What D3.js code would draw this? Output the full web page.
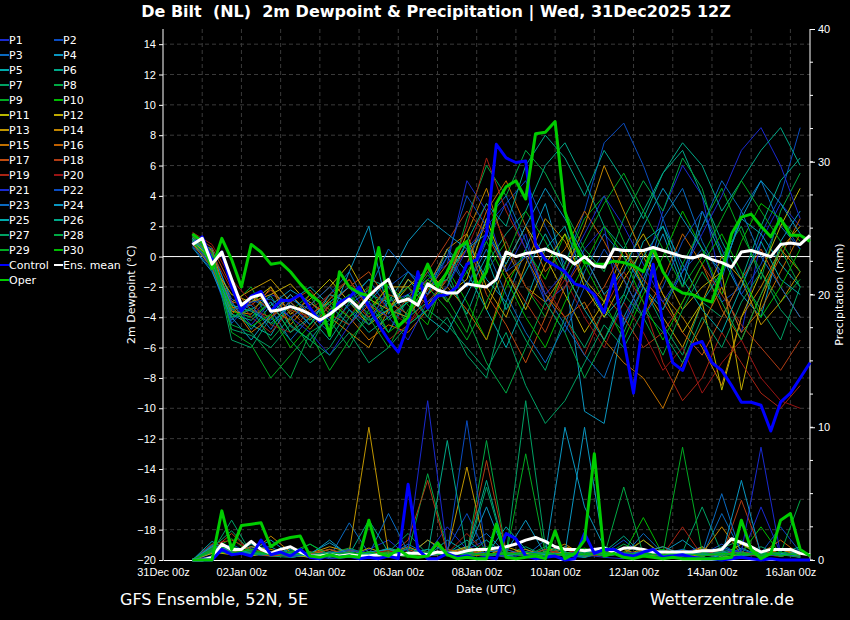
<!DOCTYPE html>
<html>
<head>
<meta charset="utf-8">
<script src="https://cdn.jsdelivr.net/npm/d3@7"></script>
<style>
body{margin:0;background:#000;}
svg{display:block;font-family:"DejaVu Sans",sans-serif;}
</style>
</head>
<body>
<svg width="850" height="620"></svg>
<script>
// GFS ensemble, De Bilt. members 12-hourly from +18h, control/oper/mean 6-hourly
var members = {
 P1:[1.0,-0.3,-3.5,-4.0,-2.5,-3.0,-4.5,-3.2,-2.0,-4.0,-3.0,-2.5,-1.5,-0.5,5.0,3.0,-1.0,1.5,-3.0,-2.0,0.5,2.0,-4.5,-1.0,3.0,6.0,4.0,-2.0,-5.0,1.0,3.5,2.0],
 P2:[1.2,0.2,-2.8,-3.5,-4.2,-2.5,-3.8,-5.0,-3.0,-1.5,-3.5,-4.0,-2.0,0.5,-2.0,1.0,3.5,5.0,2.0,-0.5,3.0,7.5,8.8,6.0,2.5,-1.0,0.5,-3.0,-2.0,1.5,4.0,8.5],
 P3:[0.8,-0.6,-4.2,-2.8,-3.5,-5.5,-4.0,-2.5,-1.0,-3.5,-5.0,-2.8,-1.0,-3.0,-0.5,2.5,4.0,1.0,-2.5,-4.5,-1.0,1.5,0.0,-2.0,2.5,4.5,1.0,-1.5,3.0,5.0,2.0,0.5],
 P4:[1.1,0.5,-3.0,-4.8,-3.2,-2.2,-3.0,-4.2,-1.0,2.0,-3.8,-1.5,-3.0,-2.0,1.0,-1.5,-3.0,0.5,3.5,-1.0,-10.2,-11.0,-4.0,-1.5,1.5,-2.0,3.0,0.0,-2.5,-4.0,1.0,3.0],
 P5:[1.3,0.0,-3.8,-4.5,-5.2,-3.0,-2.0,-3.2,-4.5,-2.5,-3.0,-1.0,-2.5,0.5,-1.0,-3.5,-6.0,-3.0,0.5,2.0,-1.5,-4.0,-2.5,1.0,2.0,-0.5,-3.0,-1.0,2.5,1.5,-0.5,-2.0],
 P6:[0.9,-0.8,-4.0,-3.5,-2.6,-4.6,-5.5,-3.8,-2.8,-1.5,-2.0,-4.0,-3.0,-1.5,-3.8,-0.5,1.5,3.0,6.0,7.5,5.0,2.0,0.5,3.0,5.5,7.0,4.0,1.0,-1.5,2.0,5.0,6.5],
 P7:[1.4,0.3,-5.5,-6.0,-4.0,-5.5,-7.0,-6.0,-4.0,-3.0,-5.0,-2.5,-5.5,-4.0,-6.5,-8.0,-3.0,-5.5,-7.5,-4.0,-6.0,-3.5,-5.0,-2.0,-4.5,-6.5,-3.0,-4.0,-1.5,-3.5,-5.5,-2.0],
 P8:[1.0,-0.2,-4.5,-5.0,-6.5,-8.0,-5.0,-4.2,-6.0,-3.5,-2.5,-4.5,-3.5,-2.0,2.5,6.0,4.0,7.0,5.5,3.0,0.5,-1.0,2.5,5.0,3.0,6.5,4.5,0.0,2.0,-1.5,3.0,5.5],
 P9:[1.2,-0.4,-3.2,-2.0,-4.5,-3.6,-2.5,-5.0,-3.0,-2.0,-4.2,-3.0,-1.2,-2.8,-5.0,-1.0,1.0,-2.0,-4.0,-0.5,2.5,4.0,1.0,-2.0,-3.5,-0.5,2.0,4.5,1.5,-1.0,-3.0,-1.5],
 P10:[1.1,0.1,-3.6,-4.0,-3.0,-5.0,-3.5,-4.8,-2.5,-3.8,-1.8,-3.2,-4.5,-0.8,-3.0,-5.5,-2.0,0.5,-1.5,1.5,-0.5,-3.0,-5.5,-2.5,0.0,3.0,0.5,-2.5,1.0,3.5,2.5,1.0],
 P11:[0.9,-0.5,-2.5,-3.0,-2.0,-3.8,-2.8,-1.5,-3.0,-4.5,-3.5,-2.0,-0.8,-2.5,-1.5,2.5,-1.0,-3.5,-0.5,1.5,-2.0,-4.0,-1.5,0.5,-2.5,-5.0,-3.0,-8.8,-4.0,-1.0,2.0,4.5],
 P12:[1.0,-0.1,-3.4,-3.0,-2.5,-1.8,-3.2,-2.0,-0.5,-2.8,-3.5,-1.5,-2.5,-1.0,0.5,-3.5,-0.5,2.0,0.0,-2.5,-5.0,-3.0,-0.5,1.5,-1.0,-3.5,-2.0,-1.0,-8.8,-3.0,0.5,2.0],
 P13:[1.1,-0.3,-3.0,-2.2,-1.5,-3.0,-4.2,-2.8,-1.5,-3.5,-2.0,-2.0,-3.2,-1.5,1.5,-2.0,-4.0,-0.5,2.5,1.0,-1.5,-3.0,0.5,-2.0,-4.0,-6.0,-3.0,0.0,-1.5,-4.5,-3.0,-1.0],
 P14:[1.3,0.4,-3.6,-3.8,-2.0,-4.5,-3.0,-4.0,-5.0,-6.0,-3.5,-4.0,-2.0,0.5,1.5,4.5,0.5,-2.0,-3.0,-1.0,2.0,6.0,3.0,0.0,-2.5,-4.0,-6.0,-8.5,-4.0,-2.0,0.5,-1.0],
 P15:[1.2,0.0,-3.2,-5.0,-4.0,-2.5,-3.8,-3.0,-4.0,-5.5,-4.5,-5.0,-3.5,-2.0,-3.5,-5.5,-1.5,0.0,-2.5,-4.0,-3.0,-5.5,-7.0,-8.0,-10.0,-7.0,-4.5,-2.0,-5.0,-3.5,-1.0,1.5],
 P16:[0.8,-0.7,-3.8,-2.6,-3.5,-4.2,-2.5,-3.5,-2.8,-4.0,-2.5,-3.0,-1.5,-3.0,-0.5,3.0,5.0,2.0,-1.0,0.5,3.0,1.0,-1.5,-4.0,-1.5,1.5,-0.5,-3.5,-5.5,-2.5,0.0,2.5],
 P17:[1.0,-0.4,-3.0,-3.2,-2.2,-3.6,-4.8,-3.2,-2.0,-1.0,-3.0,-3.8,-2.2,-0.5,1.0,-2.5,-4.5,-7.0,-4.0,-1.0,-3.5,-2.0,0.5,-1.5,-3.0,-5.0,-6.5,-4.0,-1.5,0.5,-2.0,-4.0],
 P18:[1.5,0.6,-2.0,-3.5,-4.0,-3.0,-2.2,-3.8,-4.5,-3.2,-4.0,-2.8,-1.0,1.0,3.0,1.5,-1.0,-3.0,-5.0,-2.0,0.0,-2.5,-4.0,-6.0,-5.0,-3.0,-0.5,-2.5,-4.5,-6.0,-7.5,-5.5],
 P19:[1.4,0.2,-2.2,-4.0,-5.0,-3.5,-4.0,-2.5,-1.5,-3.5,-5.5,-4.5,-2.5,-1.5,2.0,6.5,3.0,0.5,-2.0,-4.0,-6.5,-3.5,-1.0,-3.0,-7.0,-9.5,-8.0,-5.0,-7.0,-9.0,-10.0,-8.5],
 P20:[1.6,0.8,-1.5,-3.0,-4.5,-5.0,-3.5,-2.5,-4.0,-2.0,-3.5,-4.5,-3.0,-1.5,0.5,3.5,1.0,-2.0,-3.5,-1.5,-4.0,-6.0,-3.0,-5.0,-7.5,-6.0,-9.0,-7.0,-5.5,-8.0,-9.5,-10.0],
 P21:[1.0,-0.6,-3.0,-4.5,-3.0,-4.0,-5.0,-6.5,-4.5,-3.0,-4.0,-5.5,-3.0,-2.0,0.5,2.0,3.5,0.5,-2.5,-1.0,1.5,4.0,2.0,-0.5,-3.0,-1.0,1.5,4.0,7.0,8.5,6.0,2.5],
 P22:[0.7,-0.9,-4.4,-3.0,-2.8,-4.0,-3.2,-2.0,-3.5,-4.5,-2.0,-1.0,-2.5,0.0,4.0,2.0,-1.0,0.0,-3.0,-5.0,-2.0,0.5,-1.5,-4.0,-2.0,1.0,3.0,0.5,-2.5,-0.5,2.5,0.5],
 P23:[1.1,0.0,-3.5,-3.2,-4.8,-2.8,-3.5,-4.5,-3.2,-2.2,0.5,-1.0,-2.0,0.0,-2.0,0.5,-2.5,-5.0,-7.0,-4.5,-6.5,-8.0,-4.5,-2.0,-3.5,-1.0,2.0,5.0,3.0,0.0,-2.0,-4.0],
 P24:[0.6,-1.0,-4.0,-5.5,-3.8,-2.5,-4.0,-3.0,-2.0,-3.0,-1.5,1.0,2.5,1.5,0.5,1.5,-0.5,2.0,4.5,2.5,0.0,-2.5,-1.0,2.0,4.5,2.5,0.5,-1.0,2.5,5.0,3.5,1.5],
 P25:[1.2,-0.2,-3.2,-3.6,-4.4,-3.2,-4.5,-2.5,-3.0,-4.2,-3.5,-2.5,-4.0,-5.0,-2.5,0.0,-3.5,-1.0,1.5,-1.0,-3.5,-5.5,-3.0,0.0,2.0,-1.5,-3.5,-5.0,-2.0,1.0,-1.5,-2.5],
 P26:[1.0,-0.3,-3.8,-4.2,-3.0,-5.0,-4.0,-5.5,-3.5,-5.0,-4.0,-3.0,-2.0,-1.5,1.0,3.5,2.0,6.0,8.0,6.5,4.0,7.0,5.0,2.5,5.5,7.5,6.0,3.0,5.0,7.0,8.5,6.0],
 P27:[1.3,0.1,-4.8,-5.2,-6.0,-4.5,-5.5,-6.5,-5.0,-7.0,-6.0,-4.5,-3.5,-4.5,-6.0,-7.5,-5.0,-8.5,-11.0,-9.5,-7.0,-4.5,-6.0,-3.5,-5.0,-7.0,-4.0,-6.0,-3.0,-1.0,-3.5,-5.0],
 P28:[1.1,-0.5,-4.0,-3.4,-5.5,-4.0,-6.0,-3.5,-2.5,-4.5,-3.0,-2.0,-4.0,-1.0,-4.0,-7.0,-9.0,-6.0,-3.0,-5.0,-8.0,-5.5,-2.5,-4.0,-6.5,-3.5,-1.0,-3.0,-5.5,-2.5,0.5,-2.0],
 P29:[1.4,0.3,-5.0,-5.8,-8.0,-6.5,-5.0,-7.5,-5.5,-4.0,-6.0,-3.5,-2.0,-3.5,-5.5,-3.0,0.0,3.0,1.0,-1.5,1.0,3.5,5.5,3.0,0.5,-2.0,0.0,2.5,5.0,3.0,1.0,-1.0],
 P30:[0.9,-0.2,-3.4,-4.6,-3.8,-6.0,-4.5,-3.0,-4.0,-2.5,-5.0,-4.0,-1.5,-3.0,-1.0,1.0,-1.5,-4.0,-6.0,-3.0,-0.5,2.0,0.0,-3.0,-5.5,-3.0,-0.5,1.5,-1.0,-4.0,-2.0,0.5]
};
var membersPrecip = {
 P1:[0,0.3,0.8,0.5,0.6,0.2,0.4,0.1,0.2,0.8,1.5,0.3,0.5,2.5,0.8,1.5,0.3,0.5,0.2,1.0,0.4,0.2,0.1,0.6,0.2,0.5,1.0,0.3,0.2,4.0,0.5,0.2],
 P2:[0,0.5,1.2,0.4,0.3,0.5,0.2,0.3,0.6,0.2,0.4,1.0,0.3,0.8,3.5,0.5,0.2,0.4,0.8,0.3,0.2,0.5,1.5,0.3,0.2,0.8,0.4,1.2,0.3,0.5,2.5,0.6],
 P3:[0,0.8,0.6,1.0,0.5,0.3,0.6,0.2,2.8,0.5,0.3,1.2,0.4,0.6,1.0,2.0,0.5,0.3,1.5,0.4,0.2,0.6,0.3,2.0,0.5,0.8,0.3,3.5,0.6,0.4,0.8,0.3],
 P4:[0,1.2,0.4,0.9,1.0,0.2,0.4,1.5,0.3,0.5,0.8,0.3,1.5,0.4,0.9,0.3,0.6,3.0,0.4,10.0,4.0,1.0,0.5,0.3,0.6,1.5,0.4,0.2,0.9,0.3,0.5,0.8],
 P5:[0,1.0,0.7,0.5,0.4,0.8,0.3,0.6,0.2,0.4,0.9,0.5,0.3,1.5,0.6,0.4,2.5,0.8,0.3,0.6,0.2,1.0,0.4,0.3,0.6,0.4,0.2,1.0,0.4,0.3,0.6,0.2],
 P6:[0,0.6,0.5,1.2,0.4,0.3,0.5,0.2,0.4,3.0,0.6,0.4,0.3,0.5,1.5,0.4,0.6,0.3,0.8,0.5,0.3,0.6,1.8,0.4,0.3,0.5,0.4,0.7,0.3,0.6,0.5,1.0],
 P7:[0,0.9,2.2,0.6,0.3,0.2,0.4,0.8,0.3,0.2,0.6,2.0,0.4,0.8,0.3,5.5,0.4,1.0,0.3,0.6,0.2,0.8,0.4,1.5,0.3,0.6,4.0,0.5,0.3,1.0,0.4,0.2],
 P8:[0,1.1,0.6,0.4,0.5,0.7,0.3,0.5,0.9,0.4,0.3,0.5,6.5,0.8,0.4,9.0,0.6,0.3,1.0,0.4,0.7,0.3,1.2,0.5,0.6,0.4,0.3,0.9,1.5,0.4,0.6,0.3],
 P9:[0,0.7,0.5,0.8,0.3,0.5,0.2,0.4,0.6,0.3,0.5,0.2,0.8,0.4,0.6,1.0,0.3,8.0,0.5,0.3,0.4,1.0,0.3,0.5,0.8,0.3,0.6,0.4,1.2,0.3,0.5,0.2],
 P10:[0,0.8,1.6,0.5,0.4,0.6,1.2,0.3,0.5,0.4,0.7,0.3,0.5,0.6,0.4,0.8,0.3,0.5,0.6,0.4,0.9,0.3,0.5,3.2,0.4,0.6,0.3,0.8,0.5,2.5,0.4,0.3],
 P11:[0,0.5,0.7,0.3,0.6,0.4,0.2,0.5,0.8,0.3,0.4,0.6,0.3,0.5,1.0,0.4,0.3,0.6,0.2,0.4,0.8,0.3,0.5,0.4,0.6,0.3,1.0,0.2,0.4,0.6,0.3,0.5],
 P12:[0,0.6,0.4,0.8,0.5,0.3,0.6,0.4,0.3,0.9,0.4,0.5,0.3,0.6,0.4,0.3,1.0,0.5,0.4,0.6,0.3,0.5,0.8,0.3,0.4,0.6,0.5,0.3,1.2,0.4,0.3,0.6],
 P13:[0,0.9,0.6,1.0,0.8,0.4,0.5,1.0,0.6,10.0,0.5,0.3,1.5,0.6,7.0,0.5,0.4,0.8,0.3,1.0,0.6,0.4,0.5,1.5,0.4,0.3,0.9,0.5,0.6,0.3,0.8,0.4],
 P14:[0,0.7,1.0,0.5,1.8,0.6,0.4,0.8,0.3,0.6,0.5,1.0,0.4,0.6,0.3,0.8,0.5,0.4,0.6,1.2,0.3,0.5,0.4,0.8,0.6,0.3,0.5,2.5,0.4,0.6,0.3,0.5],
 P15:[0,0.8,0.5,0.6,0.4,0.3,0.5,0.6,0.4,0.3,0.8,0.5,0.6,0.4,0.9,0.3,0.5,0.4,0.6,0.3,0.8,0.4,0.5,0.6,1.0,0.4,0.3,0.5,0.6,0.4,0.8,0.3],
 P16:[0,0.6,0.8,0.4,0.5,0.6,0.3,0.4,0.7,0.5,0.3,0.6,0.4,0.8,0.5,0.3,0.6,0.4,0.5,0.8,0.3,0.6,0.4,0.5,0.3,0.7,0.4,0.6,0.3,0.5,1.5,0.4],
 P17:[0,1.0,0.6,0.5,0.3,0.4,0.6,0.3,0.5,0.4,0.6,0.8,0.3,0.5,0.7,0.4,0.3,0.6,0.5,0.4,0.8,0.3,0.5,0.6,0.4,0.3,0.7,0.5,0.4,0.6,0.3,0.5],
 P18:[0,0.7,2.0,0.6,0.4,0.3,0.5,0.8,0.4,0.6,0.3,1.5,6.0,0.5,0.4,7.5,0.6,0.3,0.8,0.4,0.5,1.0,0.3,0.6,0.4,0.5,0.8,0.3,4.5,0.6,0.4,0.3],
 P19:[0,1.2,1.5,0.8,0.5,0.6,0.4,0.3,0.7,0.5,0.4,0.6,0.3,0.5,2.0,0.4,0.6,0.3,0.5,0.8,0.4,0.3,0.6,0.5,0.4,2.5,0.3,0.5,0.6,0.4,0.3,0.5],
 P20:[0,0.8,0.5,0.6,0.4,0.5,0.3,0.6,0.4,0.5,0.7,0.3,0.4,0.6,0.5,0.3,0.8,0.4,0.5,0.3,0.6,0.4,0.5,0.3,0.7,0.4,0.5,0.6,0.3,0.4,0.5,0.3],
 P21:[0,0.9,0.4,0.6,0.5,0.3,0.4,0.6,0.5,0.3,0.4,0.8,12.0,0.6,0.5,0.4,0.3,0.6,0.5,0.4,0.8,0.3,0.5,0.6,0.4,0.3,0.5,0.8,0.6,8.5,0.4,0.3],
 P22:[0,0.7,0.6,0.4,0.5,0.6,0.3,0.4,0.8,0.5,0.3,0.4,0.6,0.5,10.5,0.4,0.3,0.6,0.5,0.4,0.3,0.8,0.4,0.5,0.3,0.6,0.4,0.5,0.8,0.3,0.4,0.5],
 P23:[0,1.1,0.8,0.5,0.6,0.4,0.3,0.5,0.7,0.4,3.5,0.6,0.3,0.5,0.4,0.6,0.8,0.3,0.5,0.4,0.6,0.3,0.5,0.4,0.7,0.3,0.5,5.0,0.4,0.6,0.3,0.5],
 P24:[0,1.0,0.5,0.7,1.5,0.4,0.5,1.3,0.4,0.6,0.8,0.5,0.4,0.6,0.5,4.0,0.3,0.6,0.4,0.5,10.0,0.8,0.4,0.6,1.0,0.4,0.5,0.3,6.0,0.4,0.5,0.3],
 P25:[0,1.4,0.6,0.5,0.4,0.6,0.3,0.5,0.4,0.6,0.3,0.5,0.8,0.4,0.6,0.3,0.5,0.4,0.6,0.3,0.5,1.0,0.4,0.6,0.3,0.5,0.4,0.6,0.3,0.5,0.4,0.6],
 P26:[0,0.7,0.5,0.6,0.4,0.5,0.3,0.6,0.4,0.5,0.3,0.6,0.4,9.0,0.5,6.0,0.4,0.6,0.3,0.5,0.4,0.6,0.3,0.5,0.4,0.6,0.3,0.5,0.4,0.6,0.3,0.5],
 P27:[0,0.6,3.0,0.5,0.4,0.6,0.3,0.5,0.4,0.6,0.3,0.9,0.4,0.6,0.3,1.5,0.4,12.0,1.0,0.6,0.3,0.5,0.4,0.6,0.3,0.5,0.4,0.6,0.3,0.5,0.4,0.6],
 P28:[0,0.8,0.6,0.4,0.5,0.3,1.2,0.4,0.6,0.3,0.5,0.4,0.6,0.3,0.5,0.4,0.6,0.3,0.5,0.4,0.6,0.3,5.5,0.4,0.6,0.3,0.5,0.4,0.6,0.3,0.5,4.5],
 P29:[0,0.9,1.0,0.6,0.5,0.4,0.6,0.3,0.5,0.4,0.6,0.3,0.5,0.4,0.6,0.3,0.5,0.4,0.6,0.3,0.5,0.4,0.6,0.3,0.5,8.5,0.6,0.3,0.5,0.4,0.6,0.3],
 P30:[0,0.7,0.5,0.8,0.4,0.6,0.3,0.5,0.4,0.6,0.3,0.5,0.4,0.6,0.3,0.5,0.4,0.6,0.3,0.5,0.4,0.6,0.3,0.5,0.4,0.6,0.3,0.5,0.4,0.6,0.3,0.5]
};
var control = [0.8,1.3,-0.3,0.3,-2.0,-3.6,-2.6,-2.3,-3.6,-2.9,-2.9,-2.5,-3.4,-4.3,-3.8,-3.0,-2.7,-2.0,-3.3,-4.5,-5.5,-6.3,-4.5,-1.0,-3.4,-2.6,-2.5,-2.0,-0.5,-0.2,1.5,7.4,6.5,6.2,6.3,0.8,-0.2,-0.6,-1.0,-1.8,-2.0,-2.5,-3.7,-1.2,-5.5,-9.0,-4.0,-0.5,-4.5,-7.0,-7.5,-5.8,-5.6,-7.0,-7.5,-8.5,-9.6,-9.6,-9.8,-11.5,-9.6,-9.0,-8.0,-7.0];
var oper = [1.5,1.0,-0.8,1.2,-0.2,-2.0,0.8,0.3,-0.5,-0.4,-1.0,-1.8,-2.5,-3.0,-5.2,-1.0,-2.0,-2.4,-2.6,0.6,-3.0,-4.6,-4.0,-2.0,-0.5,-2.0,-1.0,0.5,1.0,-2.0,-1.0,3.5,4.6,5.0,3.8,8.1,8.2,8.9,3.0,0.8,-0.4,-0.5,-0.5,-0.3,-0.4,-0.6,-1.0,0.6,-1.0,-2.0,-2.4,-2.5,-2.8,-3.0,-1.0,1.5,2.6,2.8,2.0,1.3,2.5,1.4,1.4,1.0];
var ensMean = [0.8,1.2,-0.5,0.3,-1.5,-3.2,-2.7,-2.5,-3.6,-3.5,-3.3,-3.5,-3.8,-4.2,-3.8,-3.3,-2.8,-3.4,-2.6,-2.0,-1.5,-3.0,-2.8,-3.2,-1.8,-2.2,-2.4,-2.4,-1.8,-1.9,-2.0,-1.5,0.3,0.0,0.2,0.3,0.5,0.2,0.0,-0.5,0.0,-0.6,-0.7,0.5,0.4,0.4,0.4,0.6,0.4,0.2,0.0,-0.1,0.1,-0.2,-0.4,-0.7,0.3,0.4,0.2,0.0,0.8,0.9,0.8,1.4];
var controlPrecip = [0,0,0,0.8,0.4,0.5,0.3,1.5,0.4,0.6,0.3,0.8,0.2,0.1,0.4,0.2,0.3,0.1,0.2,0.1,0.3,0.1,5.7,0.8,0.1,0.1,0.5,0.2,0.3,0.1,0.2,0.1,2.0,1.6,0.3,0.1,0.2,0.3,0.0,0.1,2.0,0.5,0.8,0.8,0.4,0.3,0.6,0.8,0.2,0.3,0.4,0.2,0.1,0.1,0.0,0.1,0.2,0.1,0.0,0.1,0,0,0,0];
var operPrecip = [0,0,0,3.7,0.8,2.6,2.7,2.8,1.0,1.5,1.7,1.8,0.3,0.2,0.4,0.2,0.3,0.2,3.0,0.5,0.3,0.8,0.3,0.2,0.3,1.3,0.4,0.1,0.2,0.1,0.1,2.7,0.2,0.1,0.2,0.3,0.1,2.2,0.1,0.5,1.5,8.0,0.3,0.5,0.2,0.1,0.3,0.2,0.1,0.2,0.1,0.1,0.1,0.1,0.1,0.2,3.0,0.8,0.1,0.5,3.0,3.5,0.8,0.3];
var meanPrecip = [0,0,0.2,1.2,0.8,0.8,1.4,0.8,0.5,0.8,1.0,0.6,0.3,0.3,0.4,0.3,0.4,0.3,0.3,0.4,0.3,0.4,0.5,0.5,0.4,0.6,0.5,0.5,0.7,0.8,0.8,0.9,1.0,1.2,1.5,1.7,1.4,1.0,0.8,0.8,0.7,0.8,0.9,0.6,0.9,0.9,0.8,0.6,0.6,0.6,0.6,0.6,0.7,0.7,0.8,1.6,1.3,1.0,0.6,0.8,0.8,0.8,0.5,0.4];

var colors = ["#1a2ad0","#0a4cc0","#0a6ac0","#0a96c0","#00aaaa","#00a888","#00a064","#00a844","#00aa22","#00bb00",
              "#b8b800","#c0aa00","#c09600","#c08400","#c07000","#c06000","#c04c10","#b03c14","#a82414","#981414"];

drawChart();

function drawChart(){
    var svg = d3.select("svg");
    var W = 850, H = 620;
    var pLeft = 163, pRight = 810, pTop = 29, pBottom = 560;

    var x = d3.scaleLinear().domain([0, 16.5]).range([pLeft, pRight]);
    var y = d3.scaleLinear().domain([-20, 15]).range([pBottom, pTop]);
    var yP = d3.scaleLinear().domain([0, 40]).range([pBottom, pTop]);

    svg.append("rect").attr("width", W).attr("height", H).attr("fill", "#000");

    // grid
    var grid = svg.append("g").attr("stroke", "#3a3a3a").attr("stroke-dasharray", "4,3").attr("stroke-width", 1);
    d3.range(1, 17).forEach(function(d){
        grid.append("line").attr("x1", x(d)).attr("x2", x(d)).attr("y1", pTop).attr("y2", pBottom);
    });
    d3.range(-18, 15, 2).forEach(function(v){
        grid.append("line").attr("x1", pLeft).attr("x2", pRight).attr("y1", y(v)).attr("y2", y(v));
    });
    svg.append("line").attr("x1", pLeft).attr("x2", pRight).attr("y1", y(0)).attr("y2", y(0))
        .attr("stroke", "#fff").attr("stroke-width", 1);

    var days = ["31Dec","02Jan","04Jan","06Jan","08Jan","10Jan","12Jan","14Jan","16Jan"];
    var xAxis = d3.axisBottom(x).tickValues(d3.range(0, 17, 2)).tickSize(0)
        .tickFormat(function(d){ return days[d/2] + " 00z"; });
    var gx = svg.append("g").attr("transform", "translate(0," + pBottom + ")").call(xAxis);
    gx.select(".domain").attr("stroke", "#fff");
    gx.selectAll("text").attr("fill", "#fff").style("font-size", "11px").attr("dy", "1.15em");

    var yAxis = d3.axisLeft(y).tickValues(d3.range(-20, 15, 2)).tickSize(4);
    var gy = svg.append("g").attr("transform", "translate(" + pLeft + ",0)").call(yAxis);
    gy.select(".domain").attr("stroke", "#fff").attr("d", "M0," + pTop + "V" + pBottom);
    gy.selectAll("line").attr("stroke", "#fff");
    gy.selectAll("text").attr("fill", "#fff").style("font-size", "11px");

    var yAxisR = d3.axisRight(yP).tickValues(d3.range(0, 41, 10)).tickSize(5);
    var gr = svg.append("g").attr("transform", "translate(" + pRight + ",0)").call(yAxisR);
    gr.select(".domain").attr("stroke", "#fff").attr("d", "M0," + pTop + "V" + pBottom);
    gr.selectAll("line").attr("stroke", "#fff");
    gr.selectAll("text").attr("fill", "#fff").style("font-size", "11px");
    gr.selectAll(".minor").data(d3.range(0, 40, 2.5)).enter().append("line")
        .attr("x1", 0).attr("x2", 3).attr("y1", function(d){ return yP(d); }).attr("y2", function(d){ return yP(d); })
        .attr("stroke", "#fff");

    var plot = svg.append("g");
    var lineT = d3.line().x(function(d, i){ return x(0.75 + 0.25*i); }).y(function(d){ return y(d); });
    var lineTm = d3.line().x(function(d, i){ return x(0.75 + 0.5*i); }).y(function(d){ return y(d); });
    var lineP = d3.line().x(function(d, i){ return x(0.75 + 0.25*i); }).y(function(d){ return yP(d); });
    var linePm = d3.line().x(function(d, i){ return x(0.75 + 0.5*i); }).y(function(d){ return yP(d); });

    Object.keys(members).forEach(function(k, i){
        var c = colors[i % 20];
        plot.append("path").attr("d", linePm(membersPrecip[k])).attr("fill", "none").attr("stroke", c).attr("stroke-width", 1);
        plot.append("path").attr("d", lineTm(members[k])).attr("fill", "none").attr("stroke", c).attr("stroke-width", 1);
    });

    function thick(d, line, col){
        plot.append("path").attr("d", line(d)).attr("fill", "none").attr("stroke", col)
            .attr("stroke-width", 3).attr("stroke-linejoin", "round");
    }
    thick(meanPrecip, lineP, "#fff");
    thick(controlPrecip, lineP, "#0000ff");
    thick(operPrecip, lineP, "#00cc00");
    thick(control, lineT, "#0000ff");
    thick(oper, lineT, "#00cc00");
    thick(ensMean, lineT, "#fff");

    // legend
    var legend = svg.append("g").style("font-size", "11px");
    var entries = Object.keys(members).map(function(k, i){ return {name: k, col: colors[i % 20]}; });
    entries.push({name: "Control", col: "#0000ff"}, {name: "Ens. mean", col: "#fff"}, {name: "Oper", col: "#00cc00"});
    entries.forEach(function(e, i){
        var lx = (i % 2) * 54, ly = 40 + Math.floor(i / 2) * 15;
        legend.append("line").attr("x1", lx).attr("x2", lx + 9).attr("y1", ly).attr("y2", ly)
            .attr("stroke", e.col).attr("stroke-width", 2);
        legend.append("text").attr("x", lx + 9).attr("y", ly + 4).attr("fill", "#fff").text(e.name);
    });

    svg.append("text").attr("x", 436).attr("y", 17).attr("text-anchor", "middle").attr("fill", "#fff")
        .style("font-size", "16px").style("font-weight", "bold").style("white-space", "pre")
        .text("De Bilt  (NL)  2m Dewpoint & Precipitation | Wed, 31Dec2025 12Z");
    svg.append("text").attr("x", 486).attr("y", 593).attr("text-anchor", "middle").attr("fill", "#fff")
        .style("font-size", "11px").text("Date (UTC)");
    svg.append("text").attr("transform", "translate(135," + (pTop + pBottom)/2 + ") rotate(-90)")
        .attr("text-anchor", "middle").attr("fill", "#fff").style("font-size", "11px").text("2m Dewpoint (°C)");
    svg.append("text").attr("transform", "translate(843," + (pTop + pBottom)/2 + ") rotate(-90)")
        .attr("text-anchor", "middle").attr("fill", "#fff").style("font-size", "11px").text("Precipitation (mm)");
    svg.append("text").attr("x", 120).attr("y", 605).attr("fill", "#fff").style("font-size", "16px").text("GFS Ensemble, 52N, 5E");
    svg.append("text").attr("x", 794).attr("y", 605).attr("text-anchor", "end").attr("fill", "#fff").style("font-size", "16px").text("Wetterzentrale.de");
}
</script>
</body>
</html>
